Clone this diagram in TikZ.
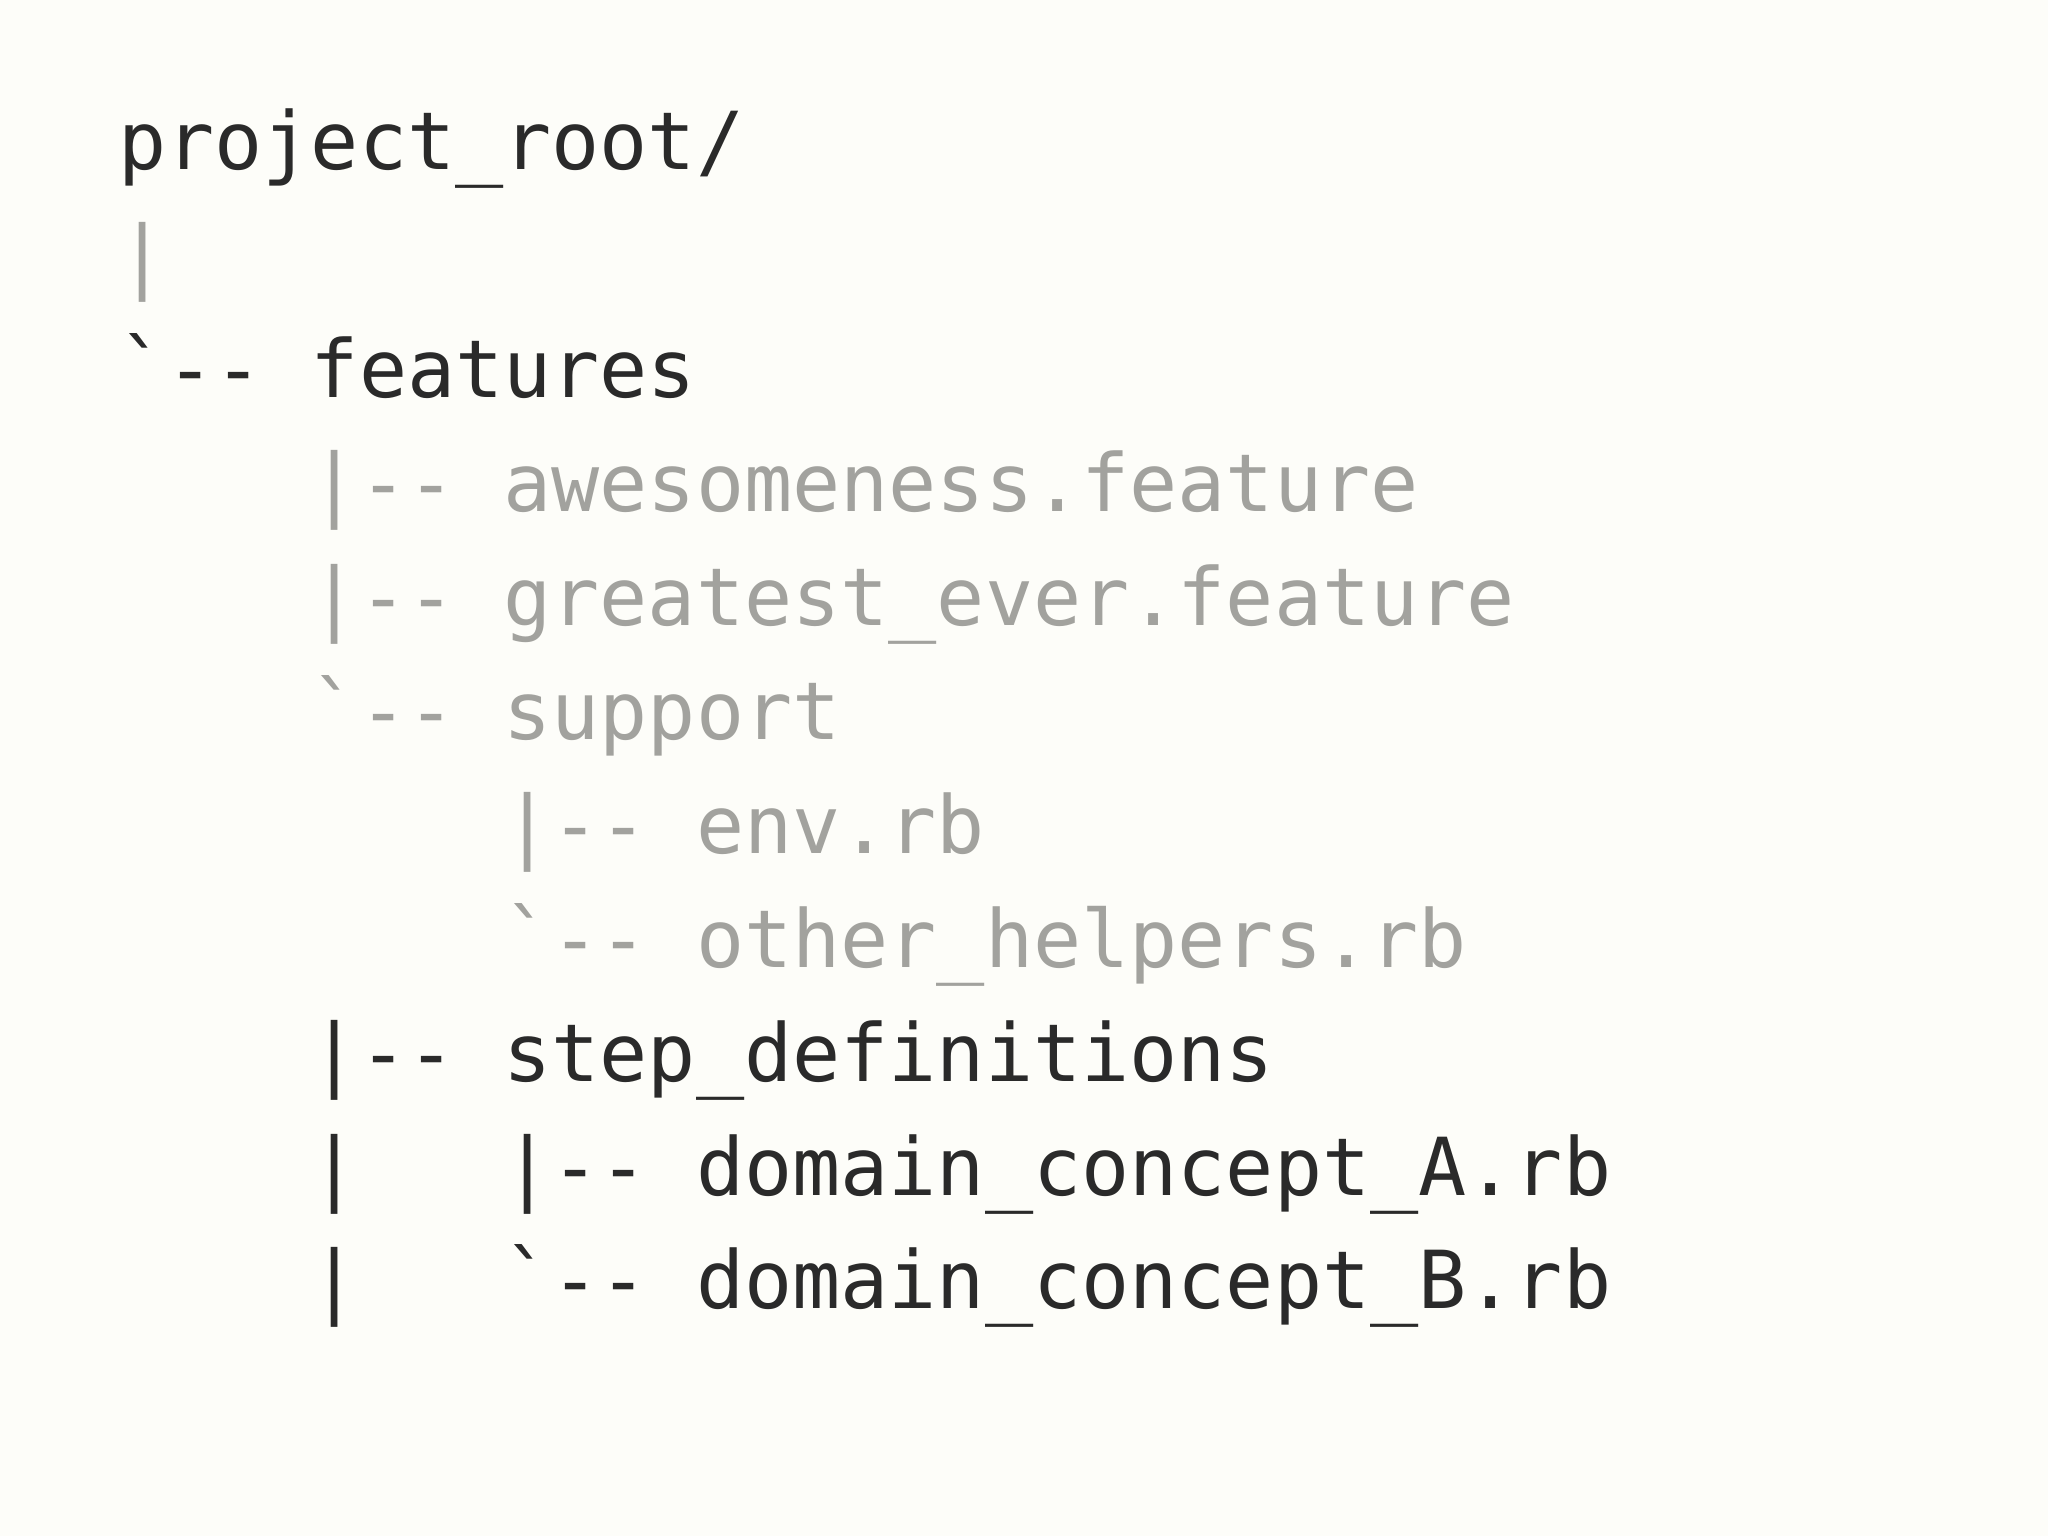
\documentclass[tikz,border=0pt]{standalone}
\usepackage{fontspec}
\newfontfamily\mono[Ligatures=NoCommon]{DejaVu Sans Mono}
\definecolor{bg}{HTML}{FDFDF9}
\definecolor{dk}{HTML}{2A2A2A}
\definecolor{gr}{HTML}{A2A29E}
\def\S{\phantom{x}}
\def\B{\symbol{96}}
\def\D{-{}-}
\begin{document}
\begin{tikzpicture}[x=1pt,y=1pt,
  ln/.style={anchor=base west,inner sep=0pt,font=\mono\fontsize{80}{96}\selectfont}]
\fill[bg] (0,0) rectangle (2048,1536);
\useasboundingbox (0,0) rectangle (2048,1536);
\def\y#1{1536-170-113.9*#1}
\node[ln,dk] (l0) at (118,{\y0}) {project\_root/};
\node[ln,gr] (l1) at (118,{\y1}) {|};
\node[ln,dk] (l2) at (118,{\y2}) {\B\D\S features};
\node[ln,gr] (l3) at (118,{\y3}) {\S\S\S\S|\D\S awesomeness.feature};
\node[ln,gr] (l4) at (118,{\y4}) {\S\S\S\S|\D\S greatest\_ever.feature};
\node[ln,gr] (l5) at (118,{\y5}) {\S\S\S\S\B\D\S support};
\node[ln,gr] (l6) at (118,{\y6}) {\S\S\S\S\S\S\S\S|\D\S env.rb};
\node[ln,gr] (l7) at (118,{\y7}) {\S\S\S\S\S\S\S\S\B\D\S other\_helpers.rb};
\node[ln,dk] (l8) at (118,{\y8}) {\S\S\S\S|\D\S step\_definitions};
\node[ln,dk] (l9) at (118,{\y9}) {\S\S\S\S|\S\S\S|\D\S domain\_concept\_A.rb};
\node[ln,dk] (l10) at (118,{\y{10}}) {\S\S\S\S|\S\S\S\B\D\S domain\_concept\_B.rb};
\end{tikzpicture}
\end{document}
